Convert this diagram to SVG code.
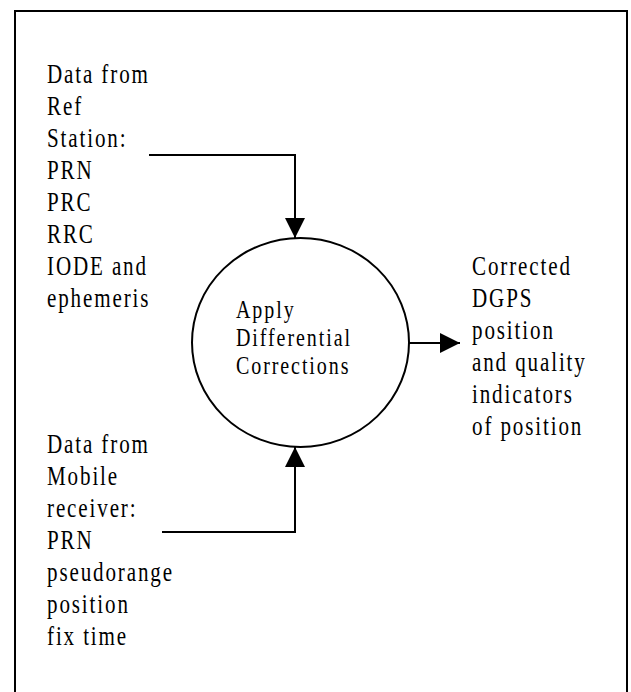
<svg xmlns="http://www.w3.org/2000/svg" width="631" height="692" viewBox="0 0 631 692">
<style>
.t{font-family:"Liberation Serif","Times New Roman",serif;font-size:27px;letter-spacing:2.4px;fill:#000}
.c{font-size:25px}
.ln{fill:none;stroke:#000;stroke-width:2}
</style>
<defs>
<marker id="ah" markerWidth="20" markerHeight="20" refX="20" refY="10" orient="auto" markerUnits="userSpaceOnUse">
<path d="M0,0 L20,10 L0,20 Z" fill="#000"/>
</marker>
</defs>
<rect width="631" height="692" fill="#fff"/>
<path d="M15,700 V11 H627 V700" class="ln"/>
<g id="ref-input" transform="translate(47,0) scale(0.78,1)">
<text class="t" x="0" y="83">Data from</text>
<text class="t" x="0" y="115">Ref</text>
<text class="t" x="0" y="147">Station:</text>
<text class="t" x="0" y="179">PRN</text>
<text class="t" x="0" y="211">PRC</text>
<text class="t" x="0" y="243">RRC</text>
<text class="t" x="0" y="275">IODE and</text>
<text class="t" x="0" y="307">ephemeris</text>
</g>
<g id="process">
<ellipse cx="300.5" cy="342.5" rx="108.5" ry="104.5" class="ln"/>
<g transform="translate(236,0) scale(0.8,1)">
<text class="t c" x="0" y="318">Apply</text>
<text class="t c" x="0" y="346">Differential</text>
<text class="t c" x="0" y="374">Corrections</text>
</g>
</g>
<g id="output" transform="translate(472,0) scale(0.78,1)">
<text class="t" x="0" y="275">Corrected</text>
<text class="t" x="0" y="307">DGPS</text>
<text class="t" x="0" y="339">position</text>
<text class="t" x="0" y="371">and quality</text>
<text class="t" x="0" y="403">indicators</text>
<text class="t" x="0" y="435">of position</text>
</g>
<g id="mobile-input" transform="translate(47,0) scale(0.78,1)">
<text class="t" x="0" y="453">Data from</text>
<text class="t" x="0" y="485">Mobile</text>
<text class="t" x="0" y="517">receiver:</text>
<text class="t" x="0" y="549">PRN</text>
<text class="t" x="0" y="581">pseudorange</text>
<text class="t" x="0" y="613">position</text>
<text class="t" x="0" y="645">fix time</text>
</g>
<g id="connectors">
<path d="M149,155 H295 V238" class="ln" marker-end="url(#ah)"/>
<path d="M162,532 H295 V447" class="ln" marker-end="url(#ah)"/>
<path d="M409,343 H460" class="ln" marker-end="url(#ah)"/>
</g>
</svg>
